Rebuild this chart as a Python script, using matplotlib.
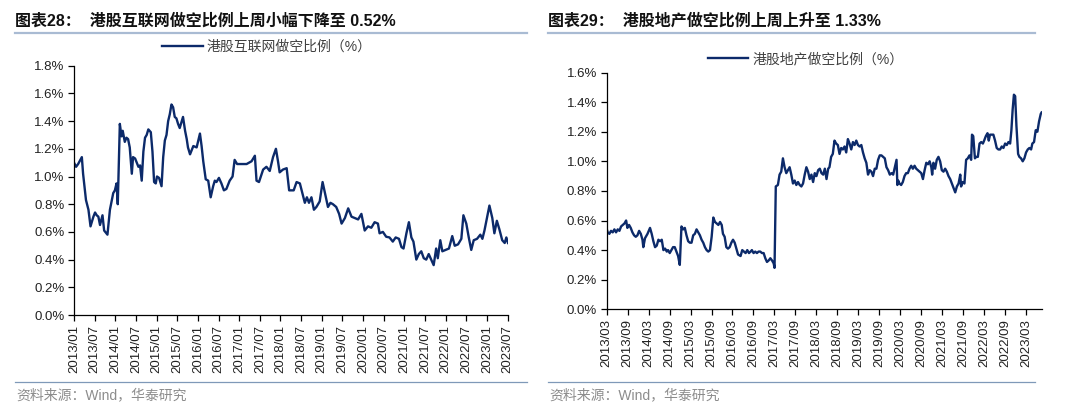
import numpy as np
import matplotlib
matplotlib.use("Agg")
import matplotlib.pyplot as plt
from matplotlib.lines import Line2D
from matplotlib.ticker import FuncFormatter

plt.rcParams['font.family'] = ['Liberation Sans', 'Noto Sans CJK SC', 'DejaVu Sans']

# 港股互联网做空比例 (%), x in fractional years
net_year = [
    2013.00, 2013.05, 2013.10, 2013.19, 2013.22, 2013.29, 2013.35, 2013.40, 2013.47, 2013.51,
    2013.55, 2013.59, 2013.63, 2013.69, 2013.73, 2013.81, 2013.87, 2013.95, 2013.99, 2014.03,
    2014.06, 2014.11, 2014.15, 2014.18, 2014.23, 2014.27, 2014.31, 2014.35, 2014.40, 2014.43,
    2014.48, 2014.52, 2014.56, 2014.60, 2014.64, 2014.68, 2014.72, 2014.76, 2014.80, 2014.86,
    2014.90, 2014.94, 2014.98, 2015.01, 2015.06, 2015.12, 2015.16, 2015.20, 2015.24, 2015.28,
    2015.32, 2015.36, 2015.40, 2015.44, 2015.48, 2015.52, 2015.56, 2015.61, 2015.64, 2015.69,
    2015.73, 2015.76, 2015.81, 2015.85, 2015.89, 2015.97, 2016.05, 2016.09, 2016.13, 2016.19,
    2016.25, 2016.31, 2016.37, 2016.41, 2016.45, 2016.51, 2016.57, 2016.63, 2016.69, 2016.77,
    2016.84, 2016.89, 2016.95, 2017.06, 2017.18, 2017.30, 2017.38, 2017.42, 2017.48, 2017.58,
    2017.66, 2017.74, 2017.82, 2017.89, 2017.94, 2017.98, 2018.06, 2018.15, 2018.21, 2018.27,
    2018.32, 2018.39, 2018.47, 2018.53, 2018.59, 2018.64, 2018.69, 2018.75, 2018.81, 2018.87,
    2018.95, 2019.02, 2019.07, 2019.15, 2019.21, 2019.27, 2019.35, 2019.42, 2019.48, 2019.56,
    2019.64, 2019.72, 2019.80, 2019.88, 2019.96, 2020.04, 2020.12, 2020.20, 2020.28, 2020.36,
    2020.40, 2020.48, 2020.56, 2020.64, 2020.72, 2020.79, 2020.87, 2020.93, 2020.98, 2021.05,
    2021.11, 2021.17, 2021.22, 2021.29, 2021.35, 2021.41, 2021.47, 2021.53, 2021.59, 2021.65,
    2021.71, 2021.77, 2021.81, 2021.87, 2021.92, 2022.00, 2022.08, 2022.16, 2022.22, 2022.30,
    2022.38, 2022.43, 2022.50, 2022.56, 2022.62, 2022.68, 2022.76, 2022.84, 2022.89, 2022.94,
    2023.00, 2023.06, 2023.13, 2023.18, 2023.24, 2023.30, 2023.37, 2023.43, 2023.47, 2023.51,
]
net_val = [
    1.10, 1.07, 1.09, 1.14, 1.02, 0.83, 0.76, 0.64, 0.71, 0.74,
    0.72, 0.71, 0.65, 0.72, 0.61, 0.58, 0.76, 0.88, 0.90, 0.95,
    0.80, 1.38, 1.29, 1.33, 1.25, 1.28, 1.27, 1.21, 1.02, 1.14,
    1.13, 1.10, 1.07, 1.08, 0.97, 1.18, 1.28, 1.30, 1.34, 1.32,
    1.18, 0.96, 0.95, 1.00, 0.99, 0.93, 1.14, 1.26, 1.30, 1.40,
    1.45, 1.52, 1.50, 1.43, 1.42, 1.38, 1.35, 1.40, 1.43, 1.33,
    1.27, 1.21, 1.16, 1.19, 1.22, 1.21, 1.31, 1.22, 1.11, 0.98,
    0.97, 0.85, 0.93, 0.97, 0.96, 0.99, 0.95, 0.90, 0.91, 0.97,
    1.00, 1.12, 1.09, 1.09, 1.09, 1.11, 1.15, 0.97, 0.96, 1.05,
    1.07, 1.04, 1.14, 1.20, 1.11, 1.03, 1.05, 1.06, 0.90, 0.90,
    0.90, 0.96, 0.95, 0.88, 0.81, 0.85, 0.81, 0.85, 0.76, 0.78,
    0.82, 0.96, 0.89, 0.78, 0.81, 0.80, 0.78, 0.73, 0.66, 0.70,
    0.77, 0.71, 0.70, 0.69, 0.73, 0.61, 0.64, 0.63, 0.67, 0.66,
    0.59, 0.60, 0.565, 0.56, 0.53, 0.56, 0.55, 0.49, 0.48, 0.59,
    0.67, 0.56, 0.53, 0.40, 0.44, 0.46, 0.41, 0.40, 0.44, 0.40,
    0.36, 0.48, 0.41, 0.54, 0.46, 0.47, 0.48, 0.57, 0.50, 0.51,
    0.55, 0.72, 0.66, 0.56, 0.47, 0.54, 0.55, 0.58, 0.55, 0.61,
    0.70, 0.79, 0.70, 0.59, 0.68, 0.62, 0.54, 0.52, 0.56, 0.52,
]

# 港股地产做空比例 (%)
prop_year = [
    2013.15, 2013.19, 2013.23, 2013.27, 2013.31, 2013.35, 2013.39, 2013.43, 2013.47, 2013.51,
    2013.55, 2013.59, 2013.63, 2013.66, 2013.70, 2013.74, 2013.78, 2013.82, 2013.86, 2013.90,
    2013.94, 2013.98, 2014.02, 2014.04, 2014.08, 2014.14, 2014.20, 2014.24, 2014.28, 2014.32,
    2014.36, 2014.40, 2014.44, 2014.48, 2014.52, 2014.56, 2014.60, 2014.63, 2014.67, 2014.71,
    2014.75, 2014.79, 2014.83, 2014.87, 2014.91, 2014.95, 2014.99, 2015.03, 2015.07, 2015.11,
    2015.15, 2015.19, 2015.23, 2015.27, 2015.31, 2015.35, 2015.39, 2015.43, 2015.47, 2015.51,
    2015.55, 2015.59, 2015.63, 2015.67, 2015.71, 2015.75, 2015.79, 2015.83, 2015.87, 2015.91,
    2015.94, 2015.98, 2016.02, 2016.06, 2016.10, 2016.14, 2016.18, 2016.22, 2016.26, 2016.30,
    2016.36, 2016.40, 2016.44, 2016.48, 2016.52, 2016.56, 2016.60, 2016.63, 2016.67, 2016.71,
    2016.75, 2016.79, 2016.83, 2016.87, 2016.91, 2016.95, 2016.99, 2017.03, 2017.07, 2017.11,
    2017.15, 2017.17, 2017.20, 2017.25, 2017.29, 2017.33, 2017.37, 2017.41, 2017.45, 2017.49,
    2017.53, 2017.57, 2017.61, 2017.65, 2017.69, 2017.73, 2017.77, 2017.81, 2017.85, 2017.89,
    2017.93, 2017.97, 2018.01, 2018.05, 2018.09, 2018.13, 2018.17, 2018.21, 2018.25, 2018.29,
    2018.33, 2018.37, 2018.41, 2018.45, 2018.48, 2018.52, 2018.56, 2018.60, 2018.64, 2018.68,
    2018.72, 2018.76, 2018.80, 2018.84, 2018.88, 2018.92, 2018.96, 2019.00, 2019.04, 2019.08,
    2019.12, 2019.16, 2019.20, 2019.24, 2019.28, 2019.32, 2019.36, 2019.40, 2019.44, 2019.48,
    2019.52, 2019.56, 2019.60, 2019.64, 2019.68, 2019.72, 2019.76, 2019.80, 2019.84, 2019.88,
    2019.92, 2019.96, 2020.00, 2020.04, 2020.08, 2020.10, 2020.12, 2020.15, 2020.19, 2020.23,
    2020.27, 2020.31, 2020.35, 2020.39, 2020.43, 2020.47, 2020.51, 2020.55, 2020.59, 2020.63,
    2020.67, 2020.71, 2020.75, 2020.79, 2020.83, 2020.87, 2020.91, 2020.93, 2020.96, 2021.00,
    2021.04, 2021.08, 2021.12, 2021.16, 2021.20, 2021.24, 2021.28, 2021.32, 2021.36, 2021.40,
    2021.44, 2021.48, 2021.52, 2021.56, 2021.60, 2021.62, 2021.66, 2021.70, 2021.74, 2021.78,
    2021.82, 2021.86, 2021.88, 2021.91, 2021.95, 2021.98, 2022.02, 2022.06, 2022.10, 2022.14,
    2022.17, 2022.21, 2022.25, 2022.28, 2022.31, 2022.35, 2022.39, 2022.43, 2022.47, 2022.51,
    2022.55, 2022.59, 2022.63, 2022.67, 2022.71, 2022.75, 2022.79, 2022.82, 2022.85, 2022.88,
    2022.91, 2022.94, 2022.98, 2023.01, 2023.05, 2023.09, 2023.13, 2023.17, 2023.21, 2023.25,
    2023.29, 2023.32, 2023.36, 2023.40, 2023.44, 2023.48, 2023.52, 2023.54,
]
prop_val = [
    0.56, 0.52, 0.51, 0.53, 0.52, 0.54, 0.52, 0.54, 0.53, 0.56,
    0.57, 0.58, 0.60, 0.55, 0.57, 0.55, 0.52, 0.50, 0.49, 0.50,
    0.53, 0.51, 0.47, 0.42, 0.48, 0.51, 0.55, 0.51, 0.46, 0.42,
    0.43, 0.47, 0.46, 0.47, 0.40, 0.41, 0.39, 0.40, 0.38, 0.40,
    0.42, 0.42, 0.39, 0.36, 0.30, 0.56, 0.54, 0.55, 0.50, 0.46,
    0.45, 0.45, 0.50, 0.51, 0.54, 0.52, 0.50, 0.47, 0.45, 0.42,
    0.40, 0.39, 0.40, 0.49, 0.62, 0.59, 0.58, 0.57, 0.59, 0.57,
    0.51, 0.49, 0.42, 0.41, 0.42, 0.45, 0.47, 0.45, 0.41, 0.37,
    0.36, 0.40, 0.39, 0.38, 0.40, 0.38, 0.39, 0.40, 0.38, 0.39,
    0.38, 0.39, 0.39, 0.38, 0.38, 0.345, 0.32, 0.33, 0.345, 0.33,
    0.31, 0.28, 0.83, 0.84, 0.91, 0.93, 1.02, 0.96, 0.92, 0.94,
    0.96, 0.91, 0.85, 0.87, 0.84, 0.86, 0.84, 0.83, 0.85, 0.91,
    0.96, 0.93, 0.88, 0.91, 0.86, 0.92, 0.90, 0.94, 0.95, 0.92,
    0.91, 0.95, 0.88, 0.95, 0.96, 1.03, 1.05, 1.14, 1.12, 1.11,
    1.05, 1.09, 1.08, 1.10, 1.06, 1.15, 1.12, 1.08, 1.13, 1.11,
    1.14, 1.11, 1.10, 1.11, 1.06, 1.02, 0.99, 0.91, 0.94, 0.93,
    0.90, 0.95, 0.95, 1.01, 1.04, 1.04, 1.03, 1.02, 0.96, 0.94,
    0.91, 0.92, 0.91, 0.96, 1.01, 0.84, 0.87, 0.85, 0.84, 0.86,
    0.90, 0.92, 0.92, 0.95, 0.97, 0.95, 0.97, 0.95, 0.94, 0.93,
    0.92, 0.88, 0.94, 0.99, 0.98, 1.00, 0.96, 0.91, 0.99, 0.95,
    1.01, 1.03, 1.00, 0.94, 0.93, 0.95, 0.93, 0.90, 0.88, 0.85,
    0.82, 0.79, 0.83, 0.85, 0.91, 0.83, 0.86, 0.85, 1.01, 1.02,
    1.04, 1.01, 1.18, 1.17, 1.02, 1.03, 1.03, 1.12, 1.13, 1.12,
    1.14, 1.17, 1.19, 1.14, 1.18, 1.18, 1.18, 1.14, 1.09, 1.08,
    1.08, 1.10, 1.09, 1.12, 1.11, 1.13, 1.12, 1.21, 1.35, 1.45,
    1.44, 1.24, 1.05, 1.03, 1.02, 1.00, 1.02, 1.06, 1.08, 1.09,
    1.08, 1.12, 1.13, 1.21, 1.20, 1.27, 1.32, 1.33,
]

net_ticks = [f"{y}/{m}" for y in range(2013, 2024) for m in ("01", "07")]
prop_ticks = [f"{y}/{m}" for y in range(2013, 2024) for m in ("03", "09")][:-1]

titles = ["图表28：  港股互联网做空比例上周小幅下降至 0.52%",
          "图表29：  港股地产做空比例上周上升至 1.33%"]
legends = ["港股互联网做空比例（%）", "港股地产做空比例（%）"]
source = "资料来源：Wind，华泰研究"

line_color = '#0c2a6a'
W, H = 1080, 409

fig = plt.figure(figsize=(W / 100, H / 100), dpi=100)
fig.patch.set_facecolor('white')


def tick_pos(label):
    y, m = label.split('/')
    return int(y) + (int(m) - 1) / 12


def setup(ax, ticks, ymax):
    for s in ('top', 'right'):
        ax.spines[s].set_visible(False)
    for s in ('left', 'bottom'):
        ax.spines[s].set_linewidth(0.9)
    ax.set_ylim(0, ymax)
    ax.set_yticks(np.arange(0, ymax + 0.001, 0.2))
    ax.yaxis.set_major_formatter(FuncFormatter(lambda v, p: f"{v:.1f}%"))
    ax.set_xticks([tick_pos(t) for t in ticks])
    ax.set_xticklabels(ticks, rotation=90)
    ax.tick_params(direction='out', length=4, width=0.9, labelsize=9.5,
                   labelcolor='#222222', pad=3)


ax1 = fig.add_axes([74 / W, 1 - 315 / H, (508 - 74) / W, (315 - 65.7) / H])
ax1.plot(net_year, net_val, color=line_color, lw=1.7, label=legends[0])
setup(ax1, net_ticks, 1.8)
ax1.set_xlim(2013.0, 2023.51)

ax2 = fig.add_axes([606.7 / W, 1 - 309.3 / H, (1042 - 606.7) / W, (309.3 - 72.5) / H])
ax2.plot(prop_year, prop_val, color=line_color, lw=1.7, label=legends[1])
setup(ax2, prop_ticks, 1.6)
ax2.set_xlim(2013 + 2 / 12, 2023.55)

for ax, cx, cy in ((ax1, 267, 47), (ax2, 806, 59)):
    ax.legend(loc='center', bbox_to_anchor=(cx / W, 1 - cy / H),
              bbox_transform=fig.transFigure, frameon=False, fontsize=10,
              handlelength=2.9, handletextpad=0.3, labelcolor='#404040')

# titles, rules and source notes
for x0, x1, title in ((15, 527, titles[0]), (548, 1035, titles[1])):
    fig.text(x0 / W, 1 - 21 / H, title, fontsize=11.5, fontweight='bold',
             color='#111111', va='center', ha='left')
    fig.add_artist(Line2D([x0 / W, x1 / W], [1 - 33 / H] * 2, color='#a9bbd3',
                          lw=1.6, transform=fig.transFigure))
    fig.add_artist(Line2D([x0 / W, x1 / W], [1 - 382 / H] * 2, color='#7f99b8',
                          lw=0.9, transform=fig.transFigure))
    fig.text((x0 + 1) / W, 1 - 395 / H, source, fontsize=10, color='#8c8c8c',
             va='center', ha='left')

fig.savefig('out.png', dpi=100, facecolor='white')
